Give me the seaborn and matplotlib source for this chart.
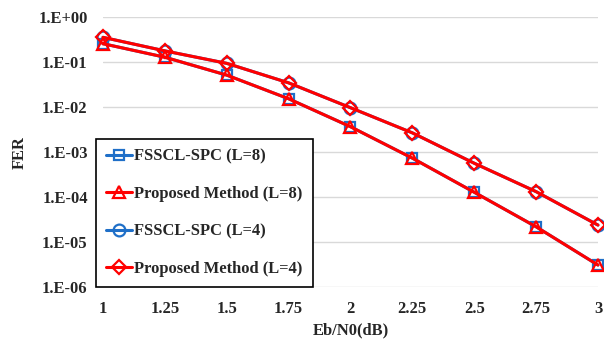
import numpy as np
import pandas as pd
import matplotlib
matplotlib.use("Agg")
import matplotlib.pyplot as plt
import seaborn as sns
from matplotlib.ticker import FixedLocator, FuncFormatter

ebn0 = [1, 1.25, 1.5, 1.75, 2, 2.25, 2.5, 2.75, 3]
fer_l8 = [0.26, 0.13, 0.052, 0.0155, 0.0037, 7.4e-4, 1.29e-4, 2.2e-5, 3.1e-6]
fer_l4 = [0.36, 0.18, 0.095, 0.035, 0.0098, 0.0027, 5.7e-4, 1.33e-4, 2.4e-5]
fsscl_l8 = fer_l8
prop_l8 = fer_l8
fsscl_l4 = fer_l4
prop_l4 = fer_l4
labels = ["FSSCL-SPC (L=8)", "Proposed Method (L=8)", "FSSCL-SPC (L=4)", "Proposed Method (L=4)"]
yticks = [1e0, 1e-1, 1e-2, 1e-3, 1e-4, 1e-5, 1e-6]
xticks = ["1", "1.25", "1.5", "1.75", "2", "2.25", "2.5", "2.75", "3"]

sns.set_theme(style="white")
plt.rcParams['font.family'] = ['Liberation Serif', 'DejaVu Serif']
plt.rcParams['font.weight'] = 'bold'

blue = "#1f6fc8"
red = "#ff0000"
FS = 11.9

fig = plt.figure(figsize=(6.04, 3.41), dpi=100)
ax = fig.add_axes([0.1705, 0.158, 0.8195, 0.791])

series = [
    (fsscl_l8, blue, "s", 7.5),
    (fsscl_l4, blue, "o", 8.5),
    (prop_l8, red, "^", 8),
    (prop_l4, red, "D", 7),
]
order_lbl = [labels[0], labels[2], labels[1], labels[3]]
handles = {}
for (vals, col, mk, ms), lbl in zip(series, order_lbl):
    df = pd.DataFrame({"x": ebn0, "y": vals})
    sns.lineplot(data=df, x="x", y="y", ax=ax, color=col, linewidth=2.2,
                 marker=mk, markersize=ms, markerfacecolor="none",
                 markeredgecolor=col, markeredgewidth=1.6, label=lbl, legend=False)
    handles[lbl] = ax.lines[-1]

ax.set_yscale("log")
ax.set_xlim(1, 3)
ax.set_ylim(1e-6, 1.0)
ax.yaxis.set_major_locator(FixedLocator(yticks))
ax.yaxis.set_minor_locator(FixedLocator([]))
ax.yaxis.set_major_formatter(FuncFormatter(lambda v, p: "1.E" + ("+" if v >= 1 else "-") + "%02d" % abs(int(round(np.log10(v))))))
ax.set_xticks([float(t) for t in xticks])
ax.set_xticklabels(xticks)
ax.grid(axis="y", color="#d9d9d9", linewidth=1.0)
ax.grid(axis="x", visible=False)
for s in ax.spines.values():
    s.set_visible(False)
ax.tick_params(axis="both", length=0, labelsize=FS)
ax.tick_params(axis="y", pad=11)
ax.tick_params(axis="x", pad=10)
for t in ax.get_xticklabels() + ax.get_yticklabels():
    t.set_fontweight("bold")
ax.set_xlabel("Eb/N0(dB)", fontsize=FS, fontweight="bold")
ax.set_ylabel("FER", fontsize=FS, fontweight="bold")
ax.xaxis.set_label_coords(0.5, -0.16)
ax.yaxis.set_label_coords(-0.168, 0.5)
ax.xaxis.label.set_va("center")
ax.yaxis.label.set_va("center")
for ln in ax.lines:
    ln.set_clip_on(False)

leg = ax.legend([handles[l] for l in labels], labels, loc="lower left",
                bbox_to_anchor=(-0.014, 0.0), frameon=True, fancybox=False,
                edgecolor="black", framealpha=1, labelspacing=1.3,
                handlelength=1.6, handletextpad=0.12, borderpad=0.6,
                borderaxespad=0.0,
                prop={"weight": "bold", "size": FS})
leg.get_frame().set_linewidth(1.2)

fig.savefig("out.png", dpi=100)
